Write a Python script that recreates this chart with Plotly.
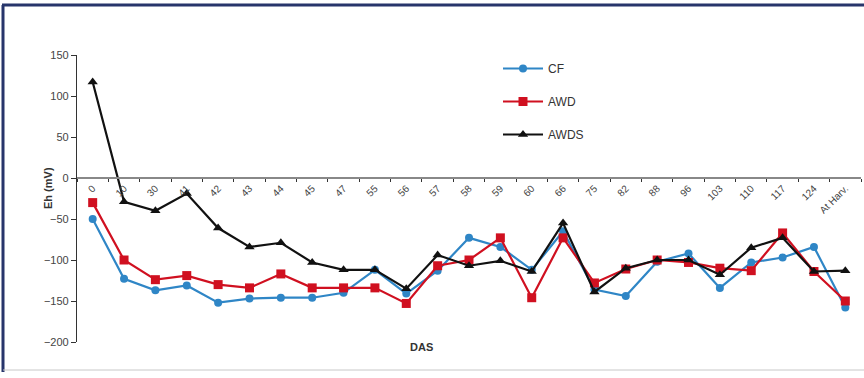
import plotly.graph_objects as go

# Days after sowing (category axis)
das = ["0", "10", "30", "41", "42", "43", "44", "45", "47", "55", "56", "57",
       "58", "59", "60", "66", "75", "82", "88", "96", "103", "110", "117",
       "124", "At Harv."]

# Redox potential Eh (mV) per treatment
cf = [-50, -123, -137, -131, -152, -147, -146, -146, -140, -112, -141, -113,
      -73, -84, -112, -65, -136, -144, -102, -92, -134, -103, -97, -84, -158]
awd = [-30, -100, -124, -119, -130, -134, -117, -134, -134, -134, -153, -107,
       -100, -73, -146, -73, -128, -111, -100, -103, -110, -113, -67, -114, -150]
awds = [117, -29, -40, -19, -61, -84, -79, -103, -112, -112, -135, -94,
        -107, -101, -114, -55, -139, -110, -100, -100, -118, -85, -73, -114, -113]

series = [
    ("CF", cf, "#2f86c6", "circle", 8),
    ("AWD", awd, "#d01020", "square", 9),
    ("AWDS", awds, "#111111", "triangle-up", 9),
]

fig = go.Figure()
for i, (name, vals, color, symbol, size) in enumerate(series):
    fig.add_trace(go.Scatter(
        x=das, y=vals, name=name, mode="lines+markers",
        legendgroup=f"g{i}",
        line=dict(color=color, width=2.2),
        marker=dict(color=color, symbol=symbol, size=size),
    ))

W, H = 864, 378
L, R, T, B = 77, 3, 55, 36
pw, ph = W - L - R, H - T - B


def px(x):
    return (x - L) / pw


def py(y):
    return (H - B - y) / ph


ymin, ymax = -200, 150
zero_frac = (0 - ymin) / (ymax - ymin)

font = "Liberation Sans, Arial, sans-serif"

fig.update_layout(
    width=W, height=H,
    margin=dict(l=L, r=R, t=T, b=B),
    paper_bgcolor="white", plot_bgcolor="white",
    font=dict(family=font, color="#333333"),
    showlegend=True,
    legend=dict(
        x=px(498), y=py(54), xanchor="left", yanchor="top",
        font=dict(size=12, color="#333333"),
        tracegroupgap=14, traceorder="grouped",
        itemwidth=40,
        bgcolor="rgba(0,0,0,0)",
    ),
    xaxis=dict(
        type="category",
        range=[-0.5, len(das) - 0.5],
        anchor="free", position=zero_frac,
        showline=True, linecolor="#888888", linewidth=1.5,
        ticks="outside", ticklen=3, tickcolor="#333333",
        tickson="boundaries",
        tickangle=-45, tickfont=dict(size=10, color="#444444"),
        showgrid=False, zeroline=False,
    ),
    yaxis=dict(
        range=[ymin, ymax], dtick=50,
        showline=True, linecolor="#333333", linewidth=1.2,
        ticks="outside", ticklen=5, tickcolor="#333333",
        tickfont=dict(size=11, color="#444444"),
        showgrid=False, zeroline=False,
    ),
)

fig.add_annotation(
    text="<b>Eh (mV)</b>", textangle=-90, showarrow=False,
    xref="paper", yref="paper", x=px(40), y=py(188),
    font=dict(size=11, color="#333333"),
)
fig.add_annotation(
    text="<b>DAS</b>", showarrow=False,
    xref="paper", yref="paper", x=px(421), y=py(355),
    font=dict(size=11, color="#333333"),
)

# Frame around the chart
fig.add_shape(type="line", xref="paper", yref="paper",
              x0=px(2), x1=px(864), y0=py(5), y1=py(5),
              line=dict(color="#27356b", width=3))
fig.add_shape(type="line", xref="paper", yref="paper",
              x0=px(3), x1=px(3), y0=py(5), y1=py(372),
              line=dict(color="#27356b", width=3))
fig.add_shape(type="line", xref="paper", yref="paper",
              x0=px(3), x1=px(864), y0=py(370), y1=py(370),
              line=dict(color="#c8c8c8", width=1))

fig.write_html("out.html")
